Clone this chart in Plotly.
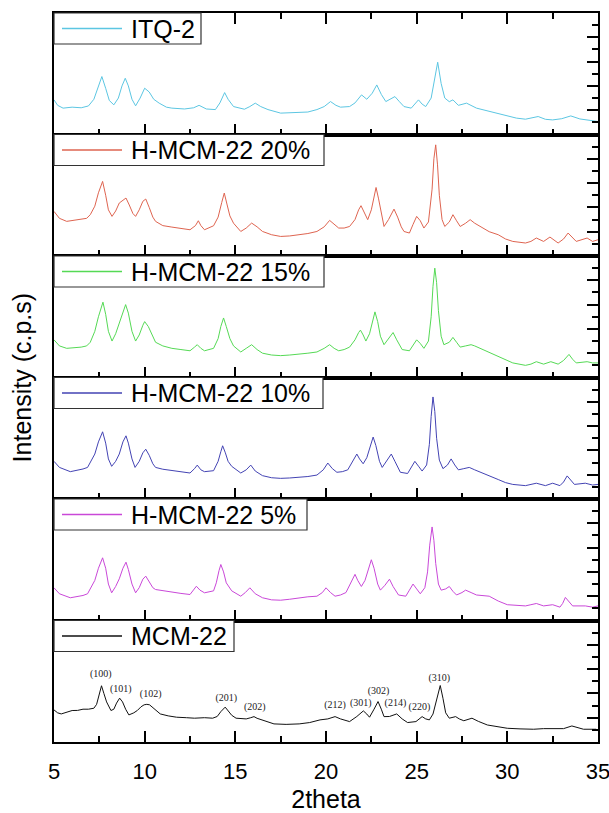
import plotly.graph_objects as go
from plotly.subplots import make_subplots

# ---------------- data (2theta, relative intensity in each panel, 0-100) ----------------
labels = ["ITQ-2", "H-MCM-22 20%", "H-MCM-22 15%", "H-MCM-22 10%", "H-MCM-22 5%", "MCM-22"]

itq2 = [(5.0, 28.5), (5.2, 24), (5.5, 21.7), (6.0, 22.5), (6.5, 22), (6.9, 23.5), (7.2, 29), (7.45, 40),
        (7.64, 47.7), (7.85, 38), (8.05, 28), (8.3, 24.4), (8.55, 30), (8.75, 40), (8.93, 46.3), (9.1, 40),
        (9.3, 29), (9.5, 23.6), (9.75, 30), (10.0, 38.1), (10.25, 35), (10.5, 29), (10.8, 25.8), (11.2, 22.5),
        (11.5, 21.7), (12.2, 21), (12.7, 22), (13.0, 24), (13.4, 21), (13.9, 20.5), (14.15, 26), (14.41, 34.5),
        (14.6, 29), (14.9, 23), (15.5, 20.8), (15.8, 23), (16.1, 25.8), (16.4, 23), (16.8, 20.5), (17.5, 17.6),
        (18.3, 18), (19.0, 18.5), (19.5, 20.5), (19.9, 23), (20.25, 27.1), (20.55, 24), (20.8, 22.5),
        (21.3, 23), (21.6, 26), (21.96, 32.6), (22.25, 29), (22.55, 34), (22.8, 40.8), (23.05, 33),
        (23.3, 27.1), (23.55, 29), (23.8, 31.2), (24.05, 27), (24.3, 23), (24.7, 21.7), (24.95, 26),
        (25.1, 28.5), (25.3, 25), (25.5, 23), (25.8, 30), (26.0, 45), (26.16, 59.5), (26.35, 42), (26.55, 30),
        (26.8, 27), (27.0, 28.5), (27.3, 24), (27.75, 25.8), (28.3, 21.7), (29.0, 19), (29.5, 17), (30.0, 14.8),
        (30.5, 13.5), (31.0, 12.6), (31.7, 14.8), (32.1, 12.5), (32.5, 12), (33.0, 13), (33.5, 15.3),
        (34.0, 12.8), (34.5, 12), (35.0, 10.7)]

hmcm20 = [(5.0, 36.7), (5.3, 31), (5.7, 28.5), (6.1, 29.5), (6.5, 30.4), (6.8, 31), (7.0, 34), (7.25, 41),
          (7.45, 52), (7.68, 61.4), (7.85, 50), (8.0, 38), (8.2, 32.6), (8.4, 37), (8.6, 43.6), (8.8, 46),
          (8.97, 47.7), (9.15, 42), (9.35, 35), (9.5, 32.6), (9.7, 38), (9.9, 45), (10.06, 46.9), (10.25, 40),
          (10.45, 32), (10.6, 28.5), (11.0, 25), (11.5, 23.8), (12.0, 22.5), (12.5, 21.6), (12.8, 25),
          (12.96, 29), (13.1, 25), (13.3, 21.6), (13.8, 24.9), (14.05, 32), (14.25, 44), (14.39, 51.8),
          (14.55, 42), (14.7, 33), (14.9, 27), (15.3, 20.2), (15.6, 23), (15.9, 27.1), (16.2, 24), (16.5, 20.2),
          (17.0, 17.5), (17.5, 16.1), (18.0, 16.5), (18.5, 17.5), (19.0, 18.5), (19.5, 20.2), (19.9, 24),
          (20.2, 29.3), (20.45, 26), (20.7, 23), (21.0, 23), (21.3, 24.3), (21.6, 30), (21.8, 38), (21.93, 41.4),
          (22.1, 36), (22.3, 29.9), (22.5, 38), (22.65, 50), (22.76, 56.4), (22.9, 47), (23.05, 35), (23.2, 24.3),
          (23.45, 30), (23.75, 38.6), (23.95, 32), (24.15, 24), (24.3, 20.2), (24.6, 18.9), (24.8, 26),
          (25.0, 32.6), (25.2, 29), (25.4, 23), (25.65, 28), (25.85, 55), (25.95, 80), (26.05, 91.5),
          (26.15, 75), (26.25, 50), (26.4, 30), (26.55, 24.3), (26.8, 28), (27.0, 34), (27.2, 29), (27.4, 24.3),
          (27.7, 27), (27.95, 29.9), (28.2, 27), (28.5, 24.3), (29.0, 20), (29.5, 17.5), (29.9, 14), (30.3, 12),
          (31.0, 10.7), (31.3, 12), (31.6, 14.8), (32.0, 12), (32.35, 15.6), (32.8, 10.7), (33.1, 14),
          (33.35, 18.9), (33.6, 15), (33.8, 12), (34.4, 14.8), (34.7, 12), (35.0, 13.4)]

hmcm15 = [(5.0, 31), (5.3, 26), (5.7, 24), (6.1, 24.5), (6.5, 25), (6.8, 26), (7.0, 29), (7.25, 38), (7.45, 50),
          (7.7, 62), (7.85, 52), (8.0, 38), (8.2, 30), (8.4, 36), (8.6, 45), (8.8, 55), (8.95, 60), (9.1, 53),
          (9.3, 38), (9.5, 30), (9.7, 35), (9.9, 43), (10.0, 46), (10.2, 42), (10.45, 33), (10.6, 29), (11.0, 26),
          (11.5, 24), (12.0, 23), (12.5, 22), (12.75, 25), (12.9, 27), (13.1, 24), (13.3, 22), (13.8, 24),
          (14.05, 32), (14.2, 42), (14.35, 49), (14.5, 42), (14.7, 32), (14.9, 26), (15.3, 21), (15.6, 24),
          (15.9, 27), (16.2, 23), (16.5, 20), (17.0, 18.5), (17.5, 18), (18.0, 18.5), (18.5, 19), (19.0, 20),
          (19.5, 21), (19.9, 24), (20.2, 27), (20.45, 24), (20.7, 22), (21.0, 23), (21.3, 25), (21.6, 31),
          (21.8, 37), (21.9, 39), (22.05, 35), (22.2, 30), (22.4, 36), (22.55, 46), (22.7, 54), (22.85, 46),
          (23.0, 34), (23.2, 27), (23.45, 32), (23.7, 37), (23.9, 31), (24.2, 23), (24.6, 22), (24.8, 27),
          (25.0, 31), (25.2, 28), (25.4, 24), (25.65, 30), (25.8, 50), (25.9, 75), (26.0, 90), (26.1, 78),
          (26.2, 55), (26.35, 34), (26.5, 27), (26.8, 29), (27.0, 33), (27.2, 29), (27.4, 25), (27.7, 26),
          (28.0, 27), (28.2, 26), (28.5, 24), (29.0, 20), (29.5, 17), (29.9, 14), (30.3, 12), (31.0, 10),
          (31.3, 11), (31.6, 13), (32.0, 11), (32.4, 13), (32.8, 11), (33.1, 14), (33.4, 19), (33.6, 15),
          (33.8, 12), (34.4, 13), (34.7, 12), (35.0, 12)]

hmcm10 = [(5.0, 31), (5.3, 26), (5.9, 22.5), (6.3, 23.5), (6.6, 24.7), (6.85, 26), (7.0, 30), (7.25, 37),
          (7.45, 47), (7.68, 55.3), (7.85, 46), (8.0, 33), (8.18, 26.9), (8.4, 31), (8.6, 37), (8.8, 47),
          (8.97, 52), (9.1, 46), (9.3, 33), (9.47, 26), (9.7, 31), (9.9, 38), (10.06, 41), (10.25, 36),
          (10.45, 29), (10.6, 26), (11.0, 24.5), (11.5, 23.3), (12.0, 22), (12.5, 21.4), (12.75, 25), (12.9, 27.9),
          (13.1, 24), (13.3, 22.5), (13.8, 23.3), (14.05, 31), (14.2, 39), (14.3, 43.8), (14.45, 38), (14.6, 31),
          (14.8, 26.9), (15.3, 21.4), (15.6, 24), (15.85, 27.9), (16.1, 23), (16.5, 19.2), (17.0, 17.5),
          (17.5, 17), (18.0, 17.3), (18.5, 17.8), (19.0, 18.5), (19.5, 19.7), (19.85, 24), (20.1, 29.6),
          (20.35, 25), (20.6, 22), (20.9, 22.5), (21.2, 24), (21.45, 30), (21.7, 37), (21.85, 33), (22.05, 29),
          (22.25, 34), (22.45, 45), (22.6, 51), (22.75, 44), (22.95, 31), (23.1, 26), (23.35, 31), (23.6, 37),
          (23.8, 31), (24.1, 22), (24.5, 21), (24.7, 26), (24.9, 31), (25.1, 27), (25.3, 23), (25.55, 28),
          (25.7, 45), (25.8, 68), (25.9, 84), (26.0, 72), (26.1, 50), (26.25, 32), (26.45, 25), (26.7, 28),
          (26.9, 33), (27.1, 28), (27.3, 24), (27.6, 25), (27.9, 26), (28.2, 24), (28.5, 22), (29.0, 19),
          (29.5, 16), (29.9, 13.5), (30.3, 12), (31.0, 11), (31.3, 12), (31.6, 13), (32.1, 11), (32.5, 13),
          (32.9, 11), (33.1, 14), (33.3, 19), (33.5, 15), (33.7, 12), (34.3, 13), (34.7, 11.5), (35.0, 12)]

hmcm5 = [(5.0, 26.9), (5.3, 22), (5.9, 18.7), (6.3, 19.5), (6.6, 20.6), (6.85, 22), (7.0, 26), (7.25, 33),
         (7.45, 43), (7.68, 51.6), (7.85, 43), (8.0, 30), (8.18, 22.8), (8.4, 28), (8.6, 34.3), (8.8, 43),
         (8.97, 48), (9.1, 42), (9.3, 30), (9.5, 22.8), (9.7, 27), (9.9, 34), (10.06, 36.5), (10.25, 32),
         (10.45, 27), (10.6, 25.5), (11.0, 24.5), (11.5, 23.3), (12.0, 22.3), (12.5, 21.4), (12.7, 25),
         (12.85, 28.2), (13.05, 25), (13.3, 22.8), (13.8, 24.4), (13.95, 31), (14.1, 41), (14.2, 46.1),
         (14.35, 40), (14.5, 31), (14.8, 24.4), (15.3, 20), (15.55, 23), (15.8, 26.9), (16.1, 22), (16.5, 18.7),
         (17.0, 17), (17.5, 16.7), (18.0, 17.5), (18.5, 18.7), (19.0, 19.5), (19.5, 20), (19.8, 23), (20.0, 26.9),
         (20.25, 23), (20.5, 20), (20.8, 21), (21.1, 23), (21.35, 30), (21.6, 38), (21.75, 33), (21.95, 28),
         (22.15, 33), (22.35, 44), (22.5, 50), (22.65, 43), (22.85, 30), (23.0, 25), (23.25, 29), (23.5, 34),
         (23.7, 28), (24.0, 21), (24.4, 20), (24.6, 25), (24.8, 30), (25.0, 26), (25.2, 22), (25.45, 27),
         (25.6, 40), (25.72, 62), (25.85, 77), (25.95, 66), (26.05, 47), (26.2, 30), (26.35, 25), (26.6, 26),
         (26.8, 28), (27.0, 24), (27.2, 21), (27.5, 23), (27.7, 25), (28.0, 23), (28.3, 21), (29.0, 20),
         (29.5, 16), (30.0, 13), (30.5, 12.5), (31.0, 12), (31.3, 13), (31.6, 14), (32.0, 12), (32.5, 13),
         (32.9, 11), (33.05, 14), (33.2, 19), (33.4, 15), (33.6, 12), (34.3, 12), (34.7, 11), (35.0, 12)]

mcm22 = [(5.0, 26.4), (5.2, 24), (5.4, 23.1), (5.7, 24.5), (6.0, 25.9), (6.3, 26), (6.6, 27), (6.9, 27),
         (7.2, 27.8), (7.35, 31), (7.5, 41), (7.62, 46.3), (7.75, 40), (7.9, 33), (8.14, 25.9), (8.3, 27),
         (8.45, 32), (8.62, 36.1), (8.78, 33), (8.95, 27), (9.13, 22.3), (9.4, 24), (9.6, 26), (9.8, 29),
         (9.97, 30.6), (10.12, 31), (10.27, 30.6), (10.55, 27), (10.86, 23.1), (11.3, 21.5), (11.76, 20.4),
         (12.3, 20), (12.75, 19.6), (13.3, 20), (13.75, 19.6), (14.0, 21), (14.2, 25), (14.44, 28.7), (14.6, 26),
         (14.8, 22), (15.04, 19.6), (15.3, 19.5), (15.6, 19), (15.85, 20), (16.03, 20.9), (16.2, 19.5),
         (16.43, 18.2), (16.8, 16.5), (17.13, 14.9), (17.8, 14.5), (18.52, 14.9), (19.1, 16), (19.67, 18.2),
         (20.1, 19), (20.5, 20.9), (20.8, 19), (21.3, 16.8), (21.7, 21), (22.06, 25.6), (22.25, 23), (22.4, 20.4),
         (22.65, 27), (22.87, 33.3), (23.05, 27), (23.2, 20.9), (23.5, 21), (23.9, 23.1), (24.2, 19), (24.5, 16),
         (24.96, 16.8), (25.15, 19), (25.3, 20.9), (25.5, 19), (25.7, 18.2), (25.9, 23), (26.1, 36), (26.3, 46.5),
         (26.45, 36), (26.6, 24), (26.8, 19.6), (27.15, 20.9), (27.35, 19), (27.6, 17.5), (28.05, 19.6),
         (28.4, 17), (28.9, 14), (29.4, 12.5), (30.0, 11.3), (30.7, 10.8), (31.45, 10.5), (32.0, 11),
         (32.55, 11.3), (33.1, 11), (33.56, 13.2), (33.9, 11.5), (34.2, 10.5), (34.9, 10.5)]

series = [itq2, hmcm20, hmcm15, hmcm10, hmcm5, mcm22]

# Miller-index labels on the MCM-22 pattern: (text, 2theta, height)
hkl_text = ["(100)", "(101)", "(102)", "(201)", "(202)", "(212)", "(301)", "(302)", "(214)", "(220)", "(310)"]
hkl_x = [7.58, 8.68, 10.33, 14.5, 16.07, 20.5, 21.92, 22.9, 23.83, 25.15, 26.25]
hkl_y = [55.4, 43.0, 38.8, 36.1, 28.7, 29.8, 32.0, 41.6, 32.0, 28.7, 52.6]

x_ticks = [5, 10, 15, 20, 25, 30, 35]

# ---------------- styling ----------------
colors = ["#5cc6e2", "#de6450", "#55d955", "#4343b3", "#c948d8", "#111111"]
legend_box_px = [147, 270, 270, 269, 253, 180]
PLOT_W, PANEL_H = 544.0, 121.5
FONT = "Liberation Sans, Arial, sans-serif"

fig = make_subplots(rows=6, cols=1, shared_xaxes=True, vertical_spacing=0)

for i, (pts, name, col) in enumerate(zip(series, labels, colors)):
    xs = [p[0] for p in pts]
    ys = [p[1] for p in pts]
    fig.add_trace(go.Scatter(x=xs, y=ys, mode="lines", name=name,
                             line=dict(color=col, width=1.0), showlegend=False), row=i + 1, col=1)

fig.add_trace(go.Scatter(x=hkl_x, y=hkl_y, mode="text", text=hkl_text, showlegend=False,
                         textfont=dict(family="Liberation Serif, Times New Roman, serif", size=10, color="#222")),
              row=6, col=1)

for i in range(6):
    r = i + 1
    fig.update_xaxes(range=[5, 35], tickvals=x_ticks, ticks="inside", ticklen=11, tickwidth=1.5,
                     tickcolor="black", showline=True, linewidth=2, linecolor="black",
                     mirror="ticks" if i == 0 else True, showgrid=False, zeroline=False,
                     minor=dict(dtick=2.5, tick0=5, ticks="inside", ticklen=6, tickwidth=1.5, tickcolor="black"),
                     showticklabels=(i == 5), tickfont=dict(family=FONT, size=22, color="black"),
                     ticklabeloverflow="allow", ticklabelstandoff=9, automargin=False,
                     row=r, col=1)
    fig.update_yaxes(range=[0, 100], side="right", dtick=20, ticks="inside", ticklen=11, tickwidth=1.5,
                     tickcolor="black", showline=True, linewidth=2, linecolor="black", mirror=True,
                     showgrid=False, zeroline=False, showticklabels=False, automargin=False,
                     minor=dict(dtick=10, ticks="inside", ticklen=6, tickwidth=1.5, tickcolor="black"),
                     row=r, col=1)

    xs_ref = "x domain" if r == 1 else f"x{r} domain"
    ys_ref = "y domain" if r == 1 else f"y{r} domain"
    bh = 31.0 / PANEL_H
    fig.add_shape(type="rect", xref=xs_ref, yref=ys_ref, x0=0, x1=legend_box_px[i] / PLOT_W,
                  y0=1 - bh, y1=1, line=dict(color="#333", width=1.2), fillcolor="white", layer="above")
    ym = 1 - bh / 2
    fig.add_shape(type="line", xref=xs_ref, yref=ys_ref, x0=8 / PLOT_W, x1=68 / PLOT_W, y0=ym, y1=ym,
                  line=dict(color=colors[i], width=1.3), layer="above")
    fig.add_annotation(xref=xs_ref, yref=ys_ref, x=75 / PLOT_W, y=ym, xanchor="left", yanchor="middle",
                       text=labels[i], showarrow=False, font=dict(family=FONT, size=25, color="black"))

fig.update_xaxes(title=dict(text="2theta", font=dict(family=FONT, size=25, color="black"), standoff=9),
                 row=6, col=1)
fig.add_annotation(xref="paper", yref="paper", x=-0.059, y=0.5, textangle=-90, xanchor="center",
                   yanchor="middle", text="Intensity (c.p.s)", showarrow=False,
                   font=dict(family=FONT, size=25, color="black"))

fig.update_layout(width=609, height=813, margin=dict(l=54, r=11, t=13, b=71, autoexpand=False),
                  paper_bgcolor="white", plot_bgcolor="white", showlegend=False)

fig.write_html("out.html")
